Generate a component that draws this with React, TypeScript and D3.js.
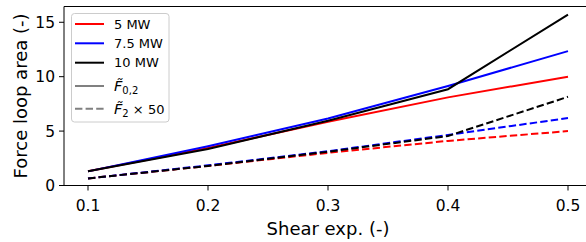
import React from "react";
import * as d3 from "d3";

// shear exponents on the x axis
const shearExp = [0.1, 0.2, 0.3, 0.4, 0.5];

// force loop area, solid lines (F0,2)
const loop5 = [1.3, 3.45, 5.85, 8.1, 10.0];
const loop75 = [1.3, 3.6, 6.15, 9.15, 12.35];
const loop10 = [1.3, 3.35, 5.95, 8.85, 15.7];

// dashed lines (F2 x 50)
const f2x50_5 = [0.65, 1.8, 3.0, 4.1, 5.0];
const f2x50_75 = [0.65, 1.85, 3.15, 4.65, 6.2];
const f2x50_10 = [0.65, 1.8, 3.1, 4.55, 8.15];

const xTicks = [0.1, 0.2, 0.3, 0.4, 0.5];
const yTicks = [0, 5, 10, 15];

const turbines = [
  { name: "5 MW", color: "#ff0000", solid: loop5, dashed: f2x50_5 },
  { name: "7.5 MW", color: "#0000ff", solid: loop75, dashed: f2x50_75 },
  { name: "10 MW", color: "#000000", solid: loop10, dashed: f2x50_10 },
];

const FONT = "DejaVu Sans, sans-serif";

export default function App() {
  const width = 586;
  const height = 242;
  const x = d3.scaleLinear().domain([0.08, 0.52]).range([64, 592]);
  const y = d3.scaleLinear().domain([0, 16.45]).range([185.5, 6.5]);

  const line = (vals: number[]) =>
    d3
      .line<number>()
      .x((_, i) => x(shearExp[i]))
      .y((d) => y(d))(vals) as string;

  const legendRows = [
    { key: "5 MW", color: "#ff0000", dash: null, cy: 24 },
    { key: "7.5 MW", color: "#0000ff", dash: null, cy: 43.3 },
    { key: "10 MW", color: "#000000", dash: null, cy: 62.7 },
    { key: "f02", color: "#808080", dash: null, cy: 86 },
    { key: "f2", color: "#808080", dash: "7.4,3.2", cy: 108.7 },
  ];

  return (
    <div style={{ position: "absolute", left: 0, top: 0 }}>
      <svg width={width} height={height} style={{ display: "block", background: "#fff" }}>
        {/* spines */}
        <line x1={64} x2={592} y1={6.5} y2={6.5} stroke="#000" strokeWidth={1} />
        <line x1={64} x2={592} y1={185.5} y2={185.5} stroke="#000" strokeWidth={1} />
        <line x1={64} x2={64} y1={6.5} y2={185.5} stroke="#000" strokeWidth={1} />

        {/* x ticks */}
        {xTicks.map((t) => (
          <g key={"x" + t}>
            <line x1={x(t)} x2={x(t)} y1={185.5} y2={190.5} stroke="#000" />
            <text x={x(t)} y={211} textAnchor="middle" fontFamily={FONT} fontSize={15.5} fill="#000">
              {t.toFixed(1)}
            </text>
          </g>
        ))}
        {/* y ticks */}
        {yTicks.map((t) => (
          <g key={"y" + t}>
            <line x1={59} x2={64} y1={y(t)} y2={y(t)} stroke="#000" />
            <text x={55} y={y(t) + 5.6} textAnchor="end" fontFamily={FONT} fontSize={15.5} fill="#000">
              {t}
            </text>
          </g>
        ))}

        {/* axis labels */}
        <text x={328} y={235} textAnchor="middle" fontFamily={FONT} fontSize={18} fill="#000">
          Shear exp. (-)
        </text>
        <text
          transform={`translate(27,96) rotate(-90)`}
          textAnchor="middle"
          fontFamily={FONT}
          fontSize={18}
          fill="#000"
        >
          Force loop area (-)
        </text>

        {/* series */}
        {turbines.map((tb) => (
          <g key={tb.name}>
            <path d={line(tb.solid)} fill="none" stroke={tb.color} strokeWidth={2} />
            <path d={line(tb.dashed)} fill="none" stroke={tb.color} strokeWidth={2} strokeDasharray="7.4,3.2" />
          </g>
        ))}

        {/* legend */}
        <rect x={71.5} y={13.5} width={97.5} height={108.5} rx={3} fill="#fff" fillOpacity={0.8} stroke="#cccccc" />
        {legendRows.map((r) => (
          <g key={r.key}>
            <line
              x1={75}
              x2={104}
              y1={r.cy}
              y2={r.cy}
              stroke={r.color}
              strokeWidth={2}
              strokeDasharray={r.dash ?? undefined}
            />
            {r.key === "f02" ? (
              <text x={114} y={r.cy + 5} fontFamily={FONT} fontSize={14.5} fill="#000">
                <tspan fontStyle="italic">F̃</tspan>
                <tspan fontSize={10} dy={3}>0,2</tspan>
              </text>
            ) : r.key === "f2" ? (
              <text x={114} y={r.cy + 5} fontFamily={FONT} fontSize={14.5} fill="#000">
                <tspan fontStyle="italic">F̃</tspan>
                <tspan fontSize={10} dy={3}>2</tspan>
                <tspan fontSize={13} dy={-3}> × 50</tspan>
              </text>
            ) : (
              <text x={114} y={r.cy + 4.5} fontFamily={FONT} fontSize={13} fill="#000">
                {r.key}
              </text>
            )}
          </g>
        ))}
      </svg>
    </div>
  );
}
